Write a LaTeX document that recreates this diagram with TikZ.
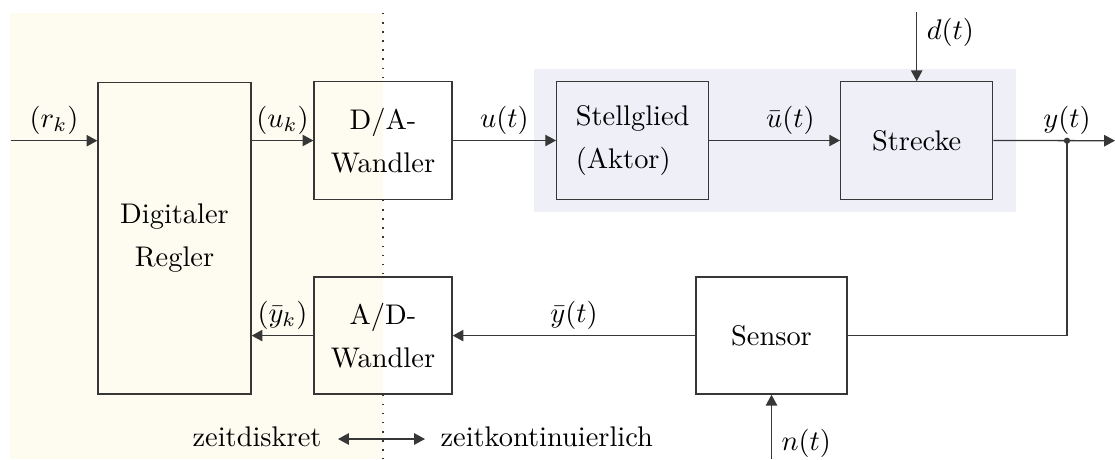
\documentclass[tikz,border=0pt]{standalone}
\usetikzlibrary{arrows.meta,calc}
\definecolor{discbg}{RGB}{254,252,240}
\definecolor{plantbg}{RGB}{239,239,248}
\definecolor{ln}{RGB}{55,55,55}
\begin{document}
\begin{tikzpicture}[x=0.3521pt,y=-0.3521pt,
  blk/.style={draw=ln, line width=0.45pt, inner sep=0pt, align=center},
  arr/.style={draw=ln, line width=0.45pt, -{Triangle[length=3.8pt,width=4pt]}},
  dbl/.style={draw=ln, line width=0.45pt, {Triangle[length=3.8pt,width=4pt]}-{Triangle[length=3.8pt,width=4pt]}},
  lbl/.style={above, inner sep=2pt},
  sep/.style={draw=ln, line width=0.5pt, dash pattern=on 0.5pt off 2.7pt}]
\useasboundingbox (0,0) rectangle (1115,459);
\fill[discbg] (10,12.7) rectangle (383,459);
\fill[plantbg] (534,69) rectangle (1016,212);

\node[blk, minimum width=53.87pt, minimum height=109.68pt] (reg) at (174.5,238.25) {Digitaler\\[3pt]Regler};
\node[blk, minimum width=48.59pt, minimum height=41.5pt] (da) at (383,140.5) {D/A-\\[3pt]Wandler};
\node[blk, minimum width=48.59pt, minimum height=41.2pt] (ad) at (383,335.6) {A/D-\\[3pt]Wandler};
\node[blk, minimum width=53.52pt, minimum height=41.3pt, align=left] (stell) at (632.7,140.5) {Stellglied\\[3pt](Aktor)};
\node[blk, minimum width=53.52pt, minimum height=41.3pt] (str) at (916.7,140.5) {Strecke};
\node[blk, minimum width=53.17pt, minimum height=41.2pt] (sen) at (771.5,335.6) {Sensor};

\coordinate (dtop0) at (383,13);
\coordinate (dbot0) at (383,459);
\draw[sep] (dtop0) -- (da.north);
\draw[sep] (da.south) -- (ad.north);
\draw[sep] (ad.south) -- (dbot0);

\coordinate (in) at (10.7,140.7);
\coordinate (br) at (1067,140.7);
\coordinate (out) at (1115,140.7);
\coordinate (dtop) at (916.7,11.7);
\coordinate (nbot) at (771.5,459);

\draw[arr] (in) -- node[lbl] {$(r_k)$} (in -| reg.west);
\draw[arr] (reg.east |- da.west) -- node[lbl] {$(u_k)$} (da.west);
\draw[arr] (da.east) -- node[lbl] {$u(t)$} (stell.west);
\draw[arr] (stell.east) -- node[lbl, pos=0.62] {$\bar u(t)$} (str.west);
\draw[arr] (str.east) -- (out);
\fill[ln] (br) circle (1.1pt);
\node[lbl] (ylab) at (br) {$y(t)$};
\draw[draw=ln, line width=0.45pt] (br) |- (sen.east);
\draw[arr] (sen.west) -- node[lbl] {$\bar y(t)$} (ad.east);
\draw[arr] (ad.west) -- node[lbl] {$(\bar y_k)$} (ad.west -| reg.east);
\draw[arr] (dtop) -- node[right, pos=0.3] {$d(t)$} (str.north);
\draw[arr] (nbot) -- node[right, pos=0.25] {$n(t)$} (sen.south);

\node[anchor=base east, inner sep=0pt] (zd) at (322,446.5) {zeitdiskret};
\node[anchor=base west, inner sep=0pt] (zk) at (440,446.5) {zeitkontinuierlich};
\draw[dbl] ($(zd.base east)+(16,-7.5)$) -- ($(zk.base west)+(-15,-7.5)$);
\end{tikzpicture}
\end{document}
